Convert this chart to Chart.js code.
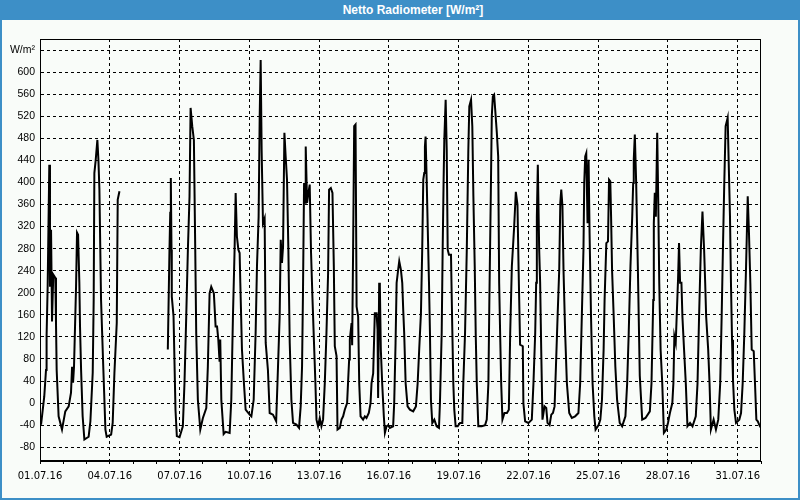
<!DOCTYPE html>
<html>
<head>
<meta charset="utf-8">
<script src="https://cdn.jsdelivr.net/npm/chart.js@4.4.0/dist/chart.umd.min.js"></script>
<style>
  body { margin: 0; background: #f9fcf9; }
  #wrap { position: relative; width: 800px; height: 500px; }
  #title {
    position: absolute; left: 0; top: 0; width: 800px; height: 20px;
    background: #3d8fc7; color: #fff; box-sizing: border-box; padding-left: 26px;
    font: bold 12px "Liberation Sans", Arial, sans-serif; line-height: 20px; text-align: center;
  }
  #frame {
    position: absolute; left: 0; top: 0; width: 800px; height: 500px; box-sizing: border-box;
    border: 2px solid #3d8fc7; border-top: none; pointer-events: none;
  }
  canvas { position: absolute; left: 0; top: 0; }
</style>
</head>
<body>
<div id="wrap">
  <canvas id="radChart" width="800" height="500"></canvas>
  <div id="title">Netto Radiometer [W/m²]</div>
  <div id="frame"></div>
</div>
<script>
// hours since 01.07.16 00:00, one line per day (null = no data)
const hours = [
  0, 1.3, 4.4, 6.2, 6.8, 7.9, 9.6, 10.3, 11.4, 12.4, 13.7, 15.8, 16.5, 17.2, 19.2, 22.7,
  26.1, 29.6, 32.0, 33.1, 34.1, 35.1, 37.2, 38.2, 39.3, 40.6, 41.3, 42.4, 44.0, 45.8,
  50.2, 52.0, 54.4, 55.4, 56.1, 57.5, 59.2, 60.3, 61.3, 63.0, 65.4, 67.5, 68.8,
  73.4, 75.0, 76.8, 79.2, 80.2, 82.0, 83,
  131.9, 133.6, 134.4, 135.0, 135.7, 136.0, 137.8, 139.8, 141.2, 144.0,
  147.4, 149.1, 150.9, 152.6, 154.3, 155.4, 157.1, 158.8, 160.2, 161.2, 162.9, 165.4,
  168.1, 171.6, 173.2, 175.0, 176.7, 179.4, 181.2, 182.7, 184.0, 185.3, 186.0, 187.1, 189.5, 191.5,
  195.7, 197.4, 199.1, 200.8, 201.9, 203.2, 204.7, 206.0, 206.7, 208.4, 210.4, 212.2,
  216.3, 218.1, 220.5, 222.5, 223.9, 225.6, 226.7, 227.7, 228.7, 230.1, 231.8, 232.9, 235.2, 237.0,
  240.4, 243.7, 245.6, 247.3, 248.4, 249.7, 250.8, 252.2, 253.5, 254.9, 256.3, 257.7, 259.4, 261.1,
  264.6, 267.3, 269.0, 270.4, 271.4, 272.5, 273.5, 274.2, 275.6, 277.0, 278.3, 279.7, 281.1, 282.5, 284.2, 285.3,
  286.9, 288.7, 290.4, 292.1, 293.9, 295.6, 297.3, 298.3, 300.1, 301.8, 303.2, 304.2, 306.0, 307.0,
  309.4, 311.1, 312.8, 314.5, 316.9, 319.0, 319.7, 321.5, 322.1, 323.1, 324.2, 325.6, 326.7, 328.3, 329.4, 330.8,
  333.4, 335.2, 336.9, 339.3, 341.1, 342.1, 343.8, 345.5, 347.3, 348.3, 348.9, 350.0, 350.7, 351.7, 353.1, 354.8, 355.9,
  357.6, 359.3, 361.0, 364.4, 365.5, 366.9, 368.0, 369.6, 370.7, 372.4, 373.8, 374.8, 375.8, 377.3, 379.3,
  381.7, 385.1, 387.9, 389.7, 391.3, 393.1, 394.4, 395.5, 396.5, 397.2, 397.9, 399.0, 400.0, 401.4, 402.4, 403.4, 404.8,
  406.9, 409.3, 411.7, 412.7, 414.5, 415.5, 416.5, 417.2, 418.6, 419.7, 420.7, 422.0, 424.1, 425.4, 426.5, 427.5, 428.9,
  431.0, 433.4, 435.8, 436.8, 438.6, 440.4, 442.0, 443.0, 444.8, 446.1, 447.2, 448.6, 449.6, 450.7, 452.3,
  455.8, 459.3, 461.0, 462.7, 463.7, 465.2, 466.2, 467.3, 468.6, 470.0, 471.4, 472.8, 473.8, 474.8, 475.9, 477.2,
  479.3, 481.8, 483.8, 485.2, 486.9, 489.3, 491.0, 492.7, 493.9, 495.4, 498.2, 498.8, 500.6,
  504.0, 507.5, 509.2, 511.0, 512.0, 512.7, 513.7, 515.1, 516.1, 517.2, 518.5, 520.6, 522.4, 523.7,
  525.8, 527.6, 529.3, 531.0, 532.4, 534.1, 535.8, 536.9, 537.9, 539.1, 540.2, 541.9, 543.7, 546.1,
  548.8, 552.2, 555.6, 557.4, 559.1, 560.8, 561.6, 562.6, 563.7, 565.0, 566.1, 567.1, 568.6, 570.2, 572.0, 573.3,
  576.4, 578.2, 579.9, 581.6, 582.6, 584.4, 586.1, 587.2, 588.5, 589.3, 590.3, 592.0, 593.7, 595.5, 598.2,
  600.7, 604.1, 605.9, 607.5, 609.3, 611.1, 612.1, 612.7, 613.8, 615.2, 616.9, 618.9, 621.4,
  624.8, 629.3, 631.0, 632.8, 633.4, 634.4, 635.5, 636.9, 638.0, 639.0, 640.4, 642.1, 643.8,
  646.3, 648.0, 650.0, 652.5, 653.6, 654.6, 656.0, 657.0, 658.4, 659.4, 660.5, 661.9, 662.9, 664.6, 666.4, 668.1,
  670.8, 673.3, 676.7, 678.5, 680.1, 681.9, 683.6, 685.3, 686.4, 687.4, 689.5, 690.9, 692.3,
  695.1, 697.5, 699.9, 701.9, 703.4, 704.7, 706.1, 707.5, 709.6, 710.6, 712.0, 713.0, 714.1, 715.1, 716.5,
  718.2, 721.6, 723.4, 725.1, 726.8, 728.6, 730.3, 731.6, 733.0, 734.4, 736.5, 737.8, 739.2, 740.7, 742.3, 744.0
];
// W/m² at those times
const netto = [
  -33, -36, 12, 60, 121, 211, 432, 211, 314, 148, 233, 227, 146, 60, -24, -48,
  -15, -6, 19, 66, 37, 66, 211, 309, 305, 218, 139, 60, -24, -66,
  -61, -33, 55, 187, 417, 441, 477, 440, 387, 187, 60, -48, -61,
  -57, -36, 55, 145, 369, 384, null,
  97, 278, 345, 408, 278, 193, 157, -12, -60, -62,
  -42, 37, 157, 278, 375, 535, 502, 477, 278, 127, 6, -48,
  -27, -9, 66, 199, 211, 199, 139, 139, 115, 75, 115, 6, -56, -52,
  -54, 6, 157, 278, 381, 302, 278, 272, 218, 97, 37, -12,
  -21, -24, 6, 127, 248, 338, 520, 622, 459, 326, 335, 109, 60, -18,
  -21, -33, 66, 157, 296, 254, 284, 490, 447, 405, 278, 109, 6, -36,
  -39, -45, -6, 66, 205, 399, 363, 465, 363, 381, 396, 272, 193, 121, 36, -30,
  -42, -27, -42, -30, 37, 127, 236, 387, 390, 381, 248, 103, 85, -48,
  -45, -30, -24, -12, 0, 79, 115, 145, 105, 278, 502, 505, 175, 157, 36, -24,
  -30, -24, -27, -18, 0, 36, 54, 163, 163, 133, 9, 218, 211, 97, 36, -24, -54,
  -42, -40, -45, -42, 0, 109, 218, 242, 257, 242, 218, 169, 127, 36, -6,
  -12, -15, -6, 36, 97, 163, 278, 405, 417, 465, 483, 405, 326, 218, 127, 6, -36,
  -30, -42, -45, 0, 127, 278, 405, 477, 550, 459, 278, 269, 269, 139, 36, -12, -42,
  -42, -36, -36, 36, 127, 278, 459, 538, 550, 502, 375, 248, 127, 36, -42,
  -42, -40, -30, 36, 187, 381, 520, 556, 559, 525, 490, 447, 218, 127, 36, -30,
  -18, -18, -12, 127, 248, 320, 383, 360, 240, 106, 103, 0, -33,
  -36, -30, 36, 127, 218, 338, 432, 278, 218, 97, -30, -6, -9, -36,
  -40, -21, -18, -6, 66, 157, 242, 363, 387, 357, 242, 127, 36, -18,
  -27, -24, -18, 36, 157, 278, 399, 447, 453, 326, 441, 308, 157, 36, -24, -48,
  -40, -30, 6, 97, 187, 290, 293, 405, 402, 338, 242, 157, 66, 6, -36,
  -42, -24, 36, 127, 248, 338, 399, 441, 487, 399, 248, 50, -30,
  -27, -15, 36, 187, 326, 381, 338, 490, 363, 218, 97, 36, -54,
  -48, -36, -18, 0, 36, 121, 109, 157, 224, 290, 218, 218, 157, 97, 36, -42,
  -36, -42, -24, 36, 157, 278, 347, 278, 218, 157, 97, 36, -48,
  -30, -48, -30, 36, 157, 278, 399, 502, 517, 441, 338, 218, 115, 42, -12,
  -36, -30, -18, 36, 127, 248, 375, 308, 218, 97, 94, 36, -30, -33, -40, -45
];

const dateLabels = ['01.07.16', '04.07.16', '07.07.16', '10.07.16', '13.07.16', '16.07.16',
                    '19.07.16', '22.07.16', '25.07.16', '28.07.16', '31.07.16'];
const yTicks = [-80, -40, 0, 40, 80, 120, 160, 200, 240, 280, 320, 360, 400, 440, 480, 520, 560, 600, 640];
const dayTicks = [];
for (let d = 0; d <= 31; d++) dayTicks.push(d * 24);

const points = hours.map((h, i) => ({ x: h, y: netto[i] }));

// black frame round the plot area
const plotFrame = {
  id: 'plotFrame',
  afterDraw(chart) {
    const a = chart.chartArea;
    const ctx = chart.ctx;
    ctx.save();
    ctx.strokeStyle = '#000';
    ctx.lineWidth = 1;
    ctx.strokeRect(Math.round(a.left) + 0.5, Math.round(a.top) + 0.5,
      Math.round(a.right) - Math.round(a.left) - 1, Math.round(a.bottom) - Math.round(a.top) - 1);
    ctx.restore();
  }
};

const ctx = document.getElementById('radChart').getContext('2d');
const radChart = new Chart(ctx, {
  type: 'line',
  data: {
    datasets: [{
      label: 'Netto Radiometer',
      data: points,
      borderColor: '#000',
      borderWidth: 2,
      pointRadius: 0,
      tension: 0,
      spanGaps: false
    }]
  },
  options: {
    responsive: false,
    animation: false,
    layout: { padding: { left: 0, top: 39, right: 39, bottom: 0 } },
    plugins: {
      legend: { display: false },
      tooltip: { enabled: false }
    },
    scales: {
      x: {
        type: 'linear',
        min: 0,
        max: 744,
        afterBuildTicks: (scale) => { scale.ticks = dayTicks.map(v => ({ value: v })); },
        afterFit: (scale) => { scale.height = 39; },
        grid: {
          color: (c) => (c.tick && c.tick.value % 72 === 0) ? '#000' : 'rgba(0,0,0,0)',
          tickColor: '#000',
          tickLength: 3,
          lineWidth: 1
        },
        border: { color: '#000', dash: [3, 3] },
        ticks: {
          autoSkip: false,
          maxRotation: 0,
          padding: 6,
          color: '#000',
          font: { family: 'DejaVu Sans', size: 10 },
          callback: (v) => (v % 72 === 0) ? dateLabels[v / 72] : ''
        }
      },
      y: {
        min: -105,
        max: 660,
        afterBuildTicks: (scale) => { scale.ticks = yTicks.map(v => ({ value: v })); },
        afterFit: (scale) => { scale.width = 40; },
        grid: { color: '#000', drawTicks: false, lineWidth: 1 },
        border: { color: '#000', dash: [3, 3] },
        ticks: {
          padding: 5,
          color: '#000',
          font: { family: 'Liberation Sans', size: 10.5 },
          callback: (v) => v === 640 ? 'W/m²' : v
        }
      }
    }
  },
  plugins: [plotFrame]
});
</script>
</body>
</html>
